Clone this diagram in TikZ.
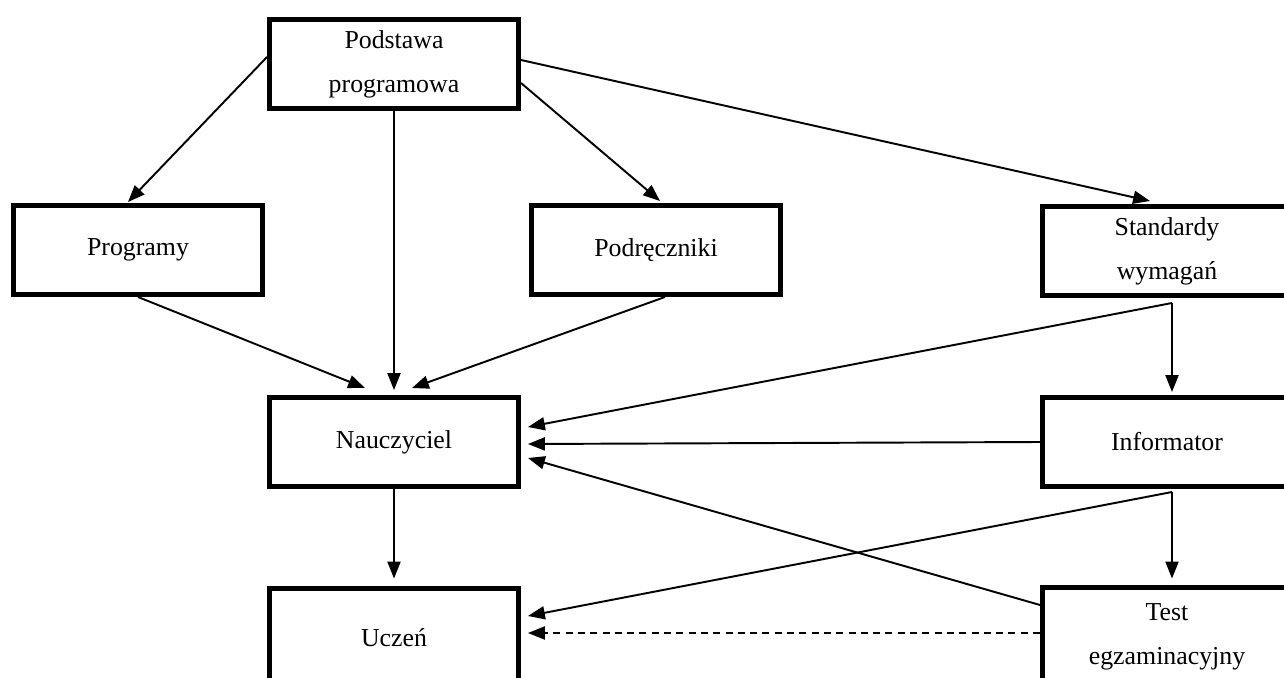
\documentclass[tikz,border=0pt]{standalone}
\usepackage{fontspec}
\setmainfont{Liberation Serif}
\usetikzlibrary{arrows.meta,calc}

\begin{document}
\begin{tikzpicture}[x=0.02cm,y=-0.02cm,
    box/.style={draw,line width=2.85pt,minimum width=4.98cm,minimum height=1.78cm,
      inner sep=0pt,align=center,font=\fontsize{14.7}{25}\selectfont},
    lowbox/.style={box,minimum height=2.0cm},
    arr/.style={line width=1.1pt,-{Triangle[length=9.6pt,width=7.4pt]}}]
    \useasboundingbox (0,0) rectangle (1284,678);
    \clip (0,0) rectangle (1284,678);
    \node[box] (pp) at (394,64) {Podstawa\\programowa};
    \node[box] (prog) at (138,250) {Programy};
    \node[box] (podr) at (656,250) {Podręczniki};
    \node[box] (std) at (1167,251) {Standardy\\wymagań};
    \node[box] (nau) at (394,442) {Nauczyciel};
    \node[box] (inf) at (1167,442) {Informator};
    \node[lowbox] (ucz) at (394,638) {Uczeń};
    \node[lowbox] (test) at (1167,637) {Test\\egzaminacyjny};
    \draw[arr] ($(pp.west)+(0,-7)$) -- ($(prog.north)+(-10,-1)$);
    \draw[arr] (pp.south) -- ($(nau.north)+(0,-5)$);
    \draw[arr] ($(pp.east)+(0,19)$) -- ($(podr.north)+(4,-2)$);
    \draw[arr] ($(pp.east)+(0,-4)$) -- ($(std.north)+(-17,-3)$);
    \draw[arr] (prog.south) -- ($(nau.north)+(-29,-7)$);
    \draw[arr] ($(podr.south)+(9,0)$) -- ($(nau.north)+(18,-7)$);
    \draw[arr] ($(std.south)+(5,5)$) -- ($(nau.east)+(7,-15)$);
    \draw[arr] ($(std.south)+(5,5)$) -- ($(inf.north)+(5,-3)$);
    \draw[arr] (inf.west) -- ($(nau.east)+(7,2)$);
    \draw[arr] ($(inf.south)+(5,3)$) -- ($(ucz.east)+(7,-22)$);
    \draw[arr] ($(inf.south)+(5,3)$) -- ($(test.north)+(5,-6)$);
    \draw[arr] ($(test.west)+(0,-32)$) -- ($(nau.east)+(7,16)$);
    \draw[arr,dash pattern=on 4pt off 3pt] ($(test.west)+(0,-4)$) -- ($(ucz.east)+(7,-5)$);
    \draw[arr] (nau.south) -- ($(ucz.north)+(0,-7)$);
\end{tikzpicture}
\end{document}
